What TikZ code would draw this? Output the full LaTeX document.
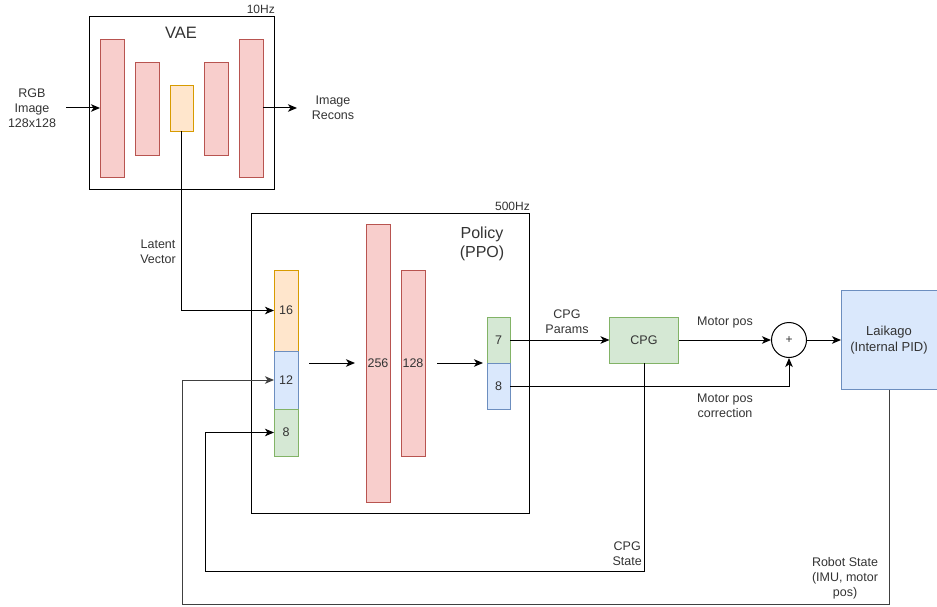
\documentclass[tikz,border=0pt]{standalone}
\usepackage{fontspec}
\setmainfont{Liberation Sans}
\usetikzlibrary{arrows.meta}
\definecolor{redF}{HTML}{F8CECC}\definecolor{redS}{HTML}{B85450}
\definecolor{oraF}{HTML}{FFE6CC}\definecolor{oraS}{HTML}{D79B00}
\definecolor{bluF}{HTML}{DAE8FC}\definecolor{bluS}{HTML}{6C8EBF}
\definecolor{grnF}{HTML}{D5E8D4}\definecolor{grnS}{HTML}{82B366}
\definecolor{txt}{HTML}{333333}
\begin{document}
\begin{tikzpicture}[x=1pt,y=-1pt,
  lbl/.style={font=\fontsize{12.5}{15}\selectfont, text=txt, align=center, inner sep=0pt},
  small/.style={font=\fontsize{12}{14}\selectfont, text=txt, inner sep=0pt},
  big/.style={font=\fontsize{16.5}{19}\selectfont, text=txt, align=center, inner sep=0pt},
  bar/.style={draw, line width=0.9pt, inner sep=0pt, outer sep=0pt, text=txt, font=\fontsize{12.5}{15}\selectfont},
  redbar/.style={bar, fill=redF, draw=redS},
  orabar/.style={bar, fill=oraF, draw=oraS},
  blubar/.style={bar, fill=bluF, draw=bluS},
  grnbar/.style={bar, fill=grnF, draw=grnS},
  frame/.style={draw, line width=0.9pt, inner sep=0pt, outer sep=0pt},
  arr/.style={line width=1pt, -{Stealth[length=9pt,width=7.5pt,inset=2.5pt]}},
  ln/.style={line width=1pt}
]
\useasboundingbox (0,0) rectangle (937,607);

% VAE
\node[frame, minimum width=185, minimum height=173] (vae) at (181.5,102.5) {};
\node[small, anchor=south east] (hz10) at (275,14) {10Hz};
\node[big] (vaet) at (181,33) {VAE};
\node[redbar, minimum width=24, minimum height=138] (b1) at (112,108) {};
\node[redbar, minimum width=24, minimum height=93] (b2) at (147,108.5) {};
\node[orabar, minimum width=23, minimum height=46] (lat) at (181.5,108) {};
\node[redbar, minimum width=24, minimum height=93] (b4) at (216,108.5) {};
\node[redbar, minimum width=24, minimum height=138] (b5) at (251,108) {};
\node[lbl] (rgb) at (32,108) {RGB\\Image\\128x128};
\node[lbl] (recons) at (333,108) {Image\\Recons};
\coordinate (rgbin) at (66,108);
\coordinate (recout) at (297,108);
\draw[arr] (rgbin) -- (b1.west);
\draw[arr] (b5.east) -- (recout);

% Policy
\node[frame, minimum width=278, minimum height=300] (pol) at (390,363) {};
\node[small, anchor=south east] (hz500) at (530,211) {500Hz};
\node[font=\fontsize{16}{19}\selectfont, text=txt, align=center, inner sep=0pt] (polt) at (482,244) {Policy\\(PPO)};
\node[orabar, minimum width=24, minimum height=81] (in16) at (286,310.5) {16};
\node[blubar, minimum width=24, minimum height=58] (in12) at (286,380) {12};
\node[grnbar, minimum width=24, minimum height=47] (in8) at (286,432.5) {8};
\node[redbar, minimum width=24, minimum height=278] (h256) at (378,363) {256};
\node[redbar, minimum width=24, minimum height=186] (h128) at (413,363) {128};
\node[grnbar, minimum width=23, minimum height=46] (o7) at (498.5,340) {7};
\node[blubar, minimum width=23, minimum height=46] (o8) at (498.5,386) {8};
\coordinate (a1) at (309,363); \coordinate (a2) at (355,363);
\coordinate (a3) at (437,363); \coordinate (a4) at (483,363);
\draw[arr] (a1) -- (a2);
\draw[arr] (a3) -- (a4);

% latent connection
\draw[arr] (lat.south) |- (in16.west);
\node[lbl] (latl) at (158,252) {Latent\\Vector};

% CPG etc.
\node[grnbar, minimum width=69, minimum height=46] (cpg) at (644,340) {CPG};
\node[draw, circle, line width=1pt, minimum size=35, inner sep=0pt, text=txt, font=\fontsize{12}{14}\selectfont] (sum) at (789,340) {+};
\node[blubar, minimum width=96, minimum height=99, align=center, font=\fontsize{13}{16}\selectfont] (laik) at (889,340) {Laikago\\(Internal PID)};
\draw[arr] (o7.east) -- (cpg.west);
\node[lbl] (cpgp) at (567,322) {CPG\\Params};
\draw[arr] (cpg.east) -- (sum.west);
\node[lbl] (mp) at (725,322) {Motor pos};
\draw[arr] (o8.east) -| (sum.south);
\node[lbl] (mpc) at (725,406) {Motor pos\\correction};
\draw[arr] (sum.east) -- (laik.west);

% feedback
\coordinate (c1) at (205,571);
\draw[arr] (cpg.south) |- (c1) |- (in8.west);
\node[lbl, anchor=east] (cpgs) at (642,553.5) {CPG\\State};
\coordinate (r1) at (182,604);
\draw[arr, draw=black!75] (laik.south) |- (r1) |- (in12.west);
\node[lbl] (rs) at (845,578) {Robot State\\(IMU, motor\\pos)};
\end{tikzpicture}
\end{document}
